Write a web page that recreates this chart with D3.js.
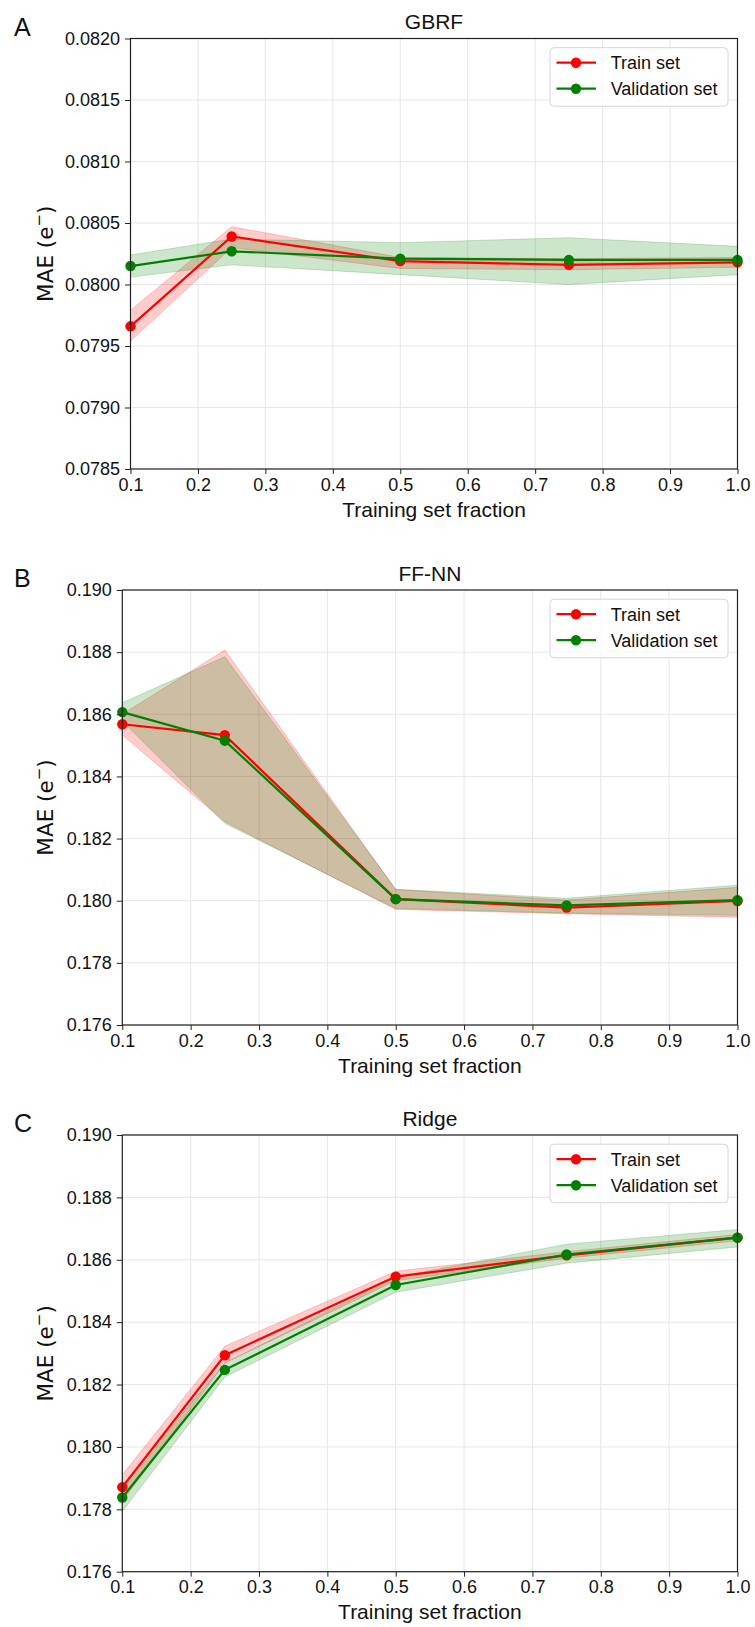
<!DOCTYPE html>
<html>
<head>
<meta charset="utf-8">
<script src="https://cdn.jsdelivr.net/npm/d3@7"></script>
<style>
  body { margin: 0; background: #fff; }
  svg { display: block; font-family: "Liberation Sans", Arial, sans-serif; }
</style>
</head>
<body>
<svg id="chart" width="755" height="1627"></svg>
<script>
// training set fractions (x)
const fractions = [0.1, 0.25, 0.5, 0.75, 1.0];
const xTicks = [0.1, 0.2, 0.3, 0.4, 0.5, 0.6, 0.7, 0.8, 0.9, 1.0];

// GBRF
const gbrfTrain   = [0.07966, 0.08039, 0.08019, 0.08016, 0.08018];
const gbrfTrainLo = [0.07954, 0.08030, 0.08013, 0.08012, 0.08014];
const gbrfTrainHi = [0.07979, 0.08047, 0.08022, 0.08021, 0.08022];
const gbrfVal     = [0.08015, 0.08027, 0.08021, 0.08020, 0.08020];
const gbrfValLo   = [0.08006, 0.08016, 0.08008, 0.08000, 0.08008];
const gbrfValHi   = [0.08024, 0.08037, 0.08034, 0.08038, 0.08031];
const gbrfTicks   = [0.0785, 0.0790, 0.0795, 0.0800, 0.0805, 0.0810, 0.0815, 0.0820];

// FF-NN
const nnTrain   = [0.18568, 0.18533, 0.18005, 0.17978, 0.17999];
const nnTrainLo = [0.18533, 0.18254, 0.17972, 0.17958, 0.17947];
const nnTrainHi = [0.18600, 0.18807, 0.18036, 0.18002, 0.18043];
const nnVal     = [0.18607, 0.18515, 0.18005, 0.17985, 0.18002];
const nnValLo   = [0.18578, 0.18249, 0.17975, 0.17960, 0.17953];
const nnValHi   = [0.18637, 0.18785, 0.18037, 0.18008, 0.18050];
const mlTicks   = [0.176, 0.178, 0.180, 0.182, 0.184, 0.186, 0.188, 0.190];

// Ridge
const ridgeTrain   = [0.17871, 0.18294, 0.18546, 0.18614, 0.18671];
const ridgeTrainLo = [0.17826, 0.18269, 0.18533, 0.18605, 0.18661];
const ridgeTrainHi = [0.17911, 0.18323, 0.18563, 0.18626, 0.18681];
const ridgeVal     = [0.17838, 0.18247, 0.18519, 0.18617, 0.18671];
const ridgeValLo   = [0.17793, 0.18224, 0.18496, 0.18589, 0.18641];
const ridgeValHi   = [0.17877, 0.18269, 0.18544, 0.18650, 0.18697];

const panels = [
  { letter: "A", title: "GBRF", left: 130.5, top: 38.5, bottom: 469, ticks: gbrfTicks, fmt: d3.format(".4f"),
    train: gbrfTrain, trainLo: gbrfTrainLo, trainHi: gbrfTrainHi, val: gbrfVal, valLo: gbrfValLo, valHi: gbrfValHi },
  { letter: "B", title: "FF-NN", left: 122.3, top: 590, bottom: 1025, ticks: mlTicks, fmt: d3.format(".3f"),
    train: nnTrain, trainLo: nnTrainLo, trainHi: nnTrainHi, val: nnVal, valLo: nnValLo, valHi: nnValHi },
  { letter: "C", title: "Ridge", left: 122.3, top: 1135, bottom: 1571.7, ticks: mlTicks, fmt: d3.format(".3f"),
    train: ridgeTrain, trainLo: ridgeTrainLo, trainHi: ridgeTrainHi, val: ridgeVal, valLo: ridgeValLo, valHi: ridgeValHi }
];

const right = 737.5;
const red = "#ff0000", green = "#008000";
const svg = d3.select("#chart");

function drawPanel(p) {
  const g = svg.append("g");
  const x = d3.scaleLinear().domain([0.1, 1.0]).range([p.left, right]);
  const y = d3.scaleLinear().domain([p.ticks[0], p.ticks[p.ticks.length - 1]]).range([p.bottom, p.top]);

  // grid
  g.append("g").selectAll("line.gx").data(xTicks).join("line")
    .attr("x1", d => x(d)).attr("x2", d => x(d)).attr("y1", p.top).attr("y2", p.bottom)
    .attr("stroke", "#e6e6e6").attr("stroke-width", 1);
  g.append("g").selectAll("line.gy").data(p.ticks).join("line")
    .attr("x1", p.left).attr("x2", right).attr("y1", d => y(d)).attr("y2", d => y(d))
    .attr("stroke", "#e6e6e6").attr("stroke-width", 1);

  const band = (lo, hi) => d3.area()
    .x((d, i) => x(fractions[i])).y0((d, i) => y(lo[i])).y1((d, i) => y(hi[i]))(lo);
  const line = d3.line().x((d, i) => x(fractions[i])).y(d => y(d));

  // bands
  g.append("path").attr("d", band(p.trainLo, p.trainHi))
    .attr("fill", red).attr("fill-opacity", 0.2).attr("stroke", red).attr("stroke-opacity", 0.2).attr("stroke-width", 1);
  g.append("path").attr("d", band(p.valLo, p.valHi))
    .attr("fill", green).attr("fill-opacity", 0.2).attr("stroke", green).attr("stroke-opacity", 0.2).attr("stroke-width", 1);

  // lines + markers
  [[p.train, red], [p.val, green]].forEach(([vals, col]) => {
    g.append("path").attr("d", line(vals)).attr("fill", "none").attr("stroke", col).attr("stroke-width", 2.2);
    g.append("g").selectAll("circle").data(vals).join("circle")
      .attr("cx", (d, i) => x(fractions[i])).attr("cy", d => y(d)).attr("r", 5.2).attr("fill", col);
  });

  // axes
  const xAxis = d3.axisBottom(x).tickValues(xTicks).tickFormat(d3.format(".1f")).tickSize(5).tickPadding(4);
  const yAxis = d3.axisLeft(y).tickValues(p.ticks).tickFormat(p.fmt).tickSize(5.5).tickPadding(5);
  const ax = g.append("g").attr("transform", `translate(0,${p.bottom})`).call(xAxis);
  const ay = g.append("g").attr("transform", `translate(${p.left},0)`).call(yAxis);
  [ax, ay].forEach(a => {
    a.select(".domain").remove();
    a.selectAll("line").attr("stroke", "#222").attr("stroke-width", 1);
    a.selectAll("text").attr("font-size", 18).attr("fill", "#111")
      .attr("font-family", "'Liberation Sans', Arial, sans-serif");
  });

  // frame
  g.append("rect").attr("x", p.left).attr("y", p.top)
    .attr("width", right - p.left).attr("height", p.bottom - p.top)
    .attr("fill", "none").attr("stroke", "#222").attr("stroke-width", 1.2);

  // title, labels
  g.append("text").attr("x", (p.left + right) / 2).attr("y", p.top - 9.5)
    .attr("text-anchor", "middle").attr("font-size", 21).attr("fill", "#111").text(p.title);
  g.append("text").attr("x", (p.left + right) / 2).attr("y", p.bottom + 47.5)
    .attr("text-anchor", "middle").attr("font-size", 21).attr("fill", "#111").text("Training set fraction");
  g.append("text").attr("x", 14).attr("y", p.top - 3)
    .attr("font-size", 25).attr("fill", "#111").text(p.letter);

  const yl = g.append("text")
    .attr("transform", `translate(52.5,${(p.top + p.bottom) / 2}) rotate(-90)`)
    .attr("text-anchor", "middle").attr("font-size", 21.5).attr("fill", "#111")
    .attr("font-family", "'DejaVu Sans', sans-serif");
  yl.append("tspan").text("MAE (e");
  yl.append("tspan").attr("dy", -9).attr("font-size", 15).text("\u2212");
  yl.append("tspan").attr("dy", 9).text(")");

  // legend
  const lw = 178, lh = 58.5;
  const lx = right - 9.5 - lw, ly = p.top + 9.2;
  const leg = g.append("g").attr("transform", `translate(${lx},${ly})`);
  leg.append("rect").attr("width", lw).attr("height", lh).attr("rx", 4)
    .attr("fill", "#fff").attr("fill-opacity", 0.8).attr("stroke", "#d6d6d6").attr("stroke-width", 1);
  [["Train set", red, 15], ["Validation set", green, 41]].forEach(([label, col, yy]) => {
    leg.append("line").attr("x1", 6.5).attr("x2", 46).attr("y1", yy).attr("y2", yy)
      .attr("stroke", col).attr("stroke-width", 2.2);
    leg.append("circle").attr("cx", 26).attr("cy", yy).attr("r", 5.2).attr("fill", col);
    leg.append("text").attr("x", 60.7).attr("y", yy + 6.5).attr("font-size", 18).attr("fill", "#111").text(label);
  });
}

panels.forEach(drawPanel);
</script>
</body>
</html>
